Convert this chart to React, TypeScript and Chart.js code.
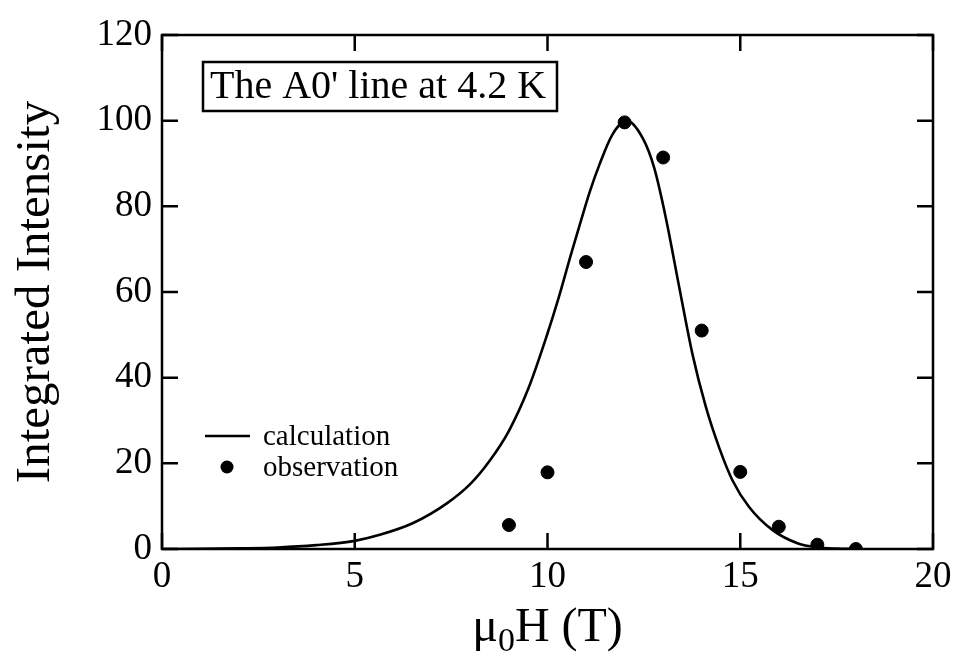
import React, { useEffect, useRef } from "react";
import { Chart, registerables } from "chart.js";

Chart.register(...registerables);

// Calculation curve
const calcX = [0, 1, 2, 3, 4, 5, 5.65, 6.5, 7.38, 8.0, 8.5, 9.0, 9.5, 9.97, 10.3, 10.6, 10.83, 11.1, 11.35, 11.68, 12.05, 12.47, 12.77, 13.07, 13.42, 13.76, 14.11, 14.46, 14.8, 15.23, 15.84, 16.5, 17, 17.5, 18];
const calcY = [0, 0.05, 0.15, 0.35, 0.9, 1.9, 3.3, 6, 10.6, 15.2, 20.6, 27.6, 37.4, 49.5, 59, 68.5, 75.5, 83.5, 89.8, 96.7, 100, 95.9, 88.9, 77.3, 61, 45.5, 33.1, 23.5, 16, 9.8, 4.4, 1.3, 0.4, 0.1, 0];

// Observations
const obsX = [9, 10, 11, 12, 13, 14, 15, 16, 17, 18];
const obsY = [5.6, 17.9, 67, 99.6, 91.4, 51, 18, 5.2, 1.0, 0];

const xTicks = [0, 5, 10, 15, 20];
const yTicks = [0, 20, 40, 60, 80, 100, 120];

const xTitleMain = "μ";
const xTitleSub = "0";
const xTitleRest = "H (T)";
const yTitle = "Integrated Intensity";
const annotation = "The A0' line at 4.2 K";
const legendLabels = ["calculation", "observation"];

const SERIF = "'Liberation Serif', 'Times New Roman', serif";

const framePlugin = {
  id: "frame",
  afterDraw(chart: any) {
    const { ctx, chartArea } = chart;
    const { left, right, top, bottom } = chartArea;
    const xs = chart.scales.x;
    const ys = chart.scales.y;
    ctx.save();
    ctx.strokeStyle = "#000";
    ctx.lineWidth = 2.5;
    ctx.strokeRect(left, top, right - left, bottom - top);
    const tl = 16;
    ctx.beginPath();
    xTicks.forEach((v) => {
      const px = xs.getPixelForValue(v);
      ctx.moveTo(px, bottom);
      ctx.lineTo(px, bottom - tl);
      ctx.moveTo(px, top);
      ctx.lineTo(px, top + tl);
    });
    yTicks.forEach((v) => {
      const py = ys.getPixelForValue(v);
      ctx.moveTo(left, py);
      ctx.lineTo(left + tl, py);
      ctx.moveTo(right, py);
      ctx.lineTo(right - tl, py);
    });
    ctx.stroke();

    // annotation box
    ctx.lineWidth = 2.5;
    ctx.strokeRect(203, 62, 354, 49);
    ctx.fillStyle = "#000";
    ctx.font = `40px ${SERIF}`;
    ctx.textBaseline = "alphabetic";
    ctx.textAlign = "left";
    ctx.fillText(annotation, 210, 98);

    // legend
    ctx.lineWidth = 2.5;
    ctx.beginPath();
    ctx.moveTo(205, 436);
    ctx.lineTo(250, 436);
    ctx.stroke();
    ctx.beginPath();
    ctx.arc(227, 467, 6.5, 0, Math.PI * 2);
    ctx.fill();
    ctx.font = `29px ${SERIF}`;
    ctx.fillText(legendLabels[0], 263, 445);
    ctx.fillText(legendLabels[1], 263, 476);

    // x title
    const big = `48px ${SERIF}`;
    const small = `34px ${SERIF}`;
    ctx.font = big;
    const w1 = ctx.measureText(xTitleMain).width;
    const w3 = ctx.measureText(xTitleRest).width;
    ctx.font = small;
    const w2 = ctx.measureText(xTitleSub).width;
    const total = w1 + w2 + w3;
    const cx = (left + right) / 2;
    let x0 = cx - total / 2;
    const base = 641;
    ctx.font = big;
    ctx.fillText(xTitleMain, x0, base);
    x0 += w1;
    ctx.font = small;
    ctx.fillText(xTitleSub, x0, base + 10);
    x0 += w2;
    ctx.font = big;
    ctx.fillText(xTitleRest, x0, base);

    // y title
    ctx.save();
    ctx.translate(36, (top + bottom) / 2);
    ctx.rotate(-Math.PI / 2);
    ctx.font = `49px ${SERIF}`;
    ctx.textAlign = "center";
    ctx.textBaseline = "middle";
    ctx.fillText(yTitle, 0, 0);
    ctx.restore();

    ctx.restore();
  },
};

export default function App() {
  const ref = useRef<HTMLCanvasElement | null>(null);
  useEffect(() => {
    document.body.style.margin = "0";
    const canvas = ref.current!;
    const chart = new Chart(canvas, {
      type: "scatter",
      data: {
        datasets: [
          {
            type: "line",
            label: legendLabels[0],
            data: calcX.map((x, i) => ({ x, y: calcY[i] })),
            borderColor: "#000",
            borderWidth: 2.6,
            pointRadius: 0,
            cubicInterpolationMode: "monotone",
            fill: false,
          } as any,
          {
            type: "scatter",
            label: legendLabels[1],
            data: obsX.map((x, i) => ({ x, y: obsY[i] })),
            backgroundColor: "#000",
            borderColor: "#000",
            pointRadius: 6.5,
            pointHoverRadius: 6.5,
          },
        ],
      },
      options: {
        animation: false,
        responsive: false,
        events: [],
        layout: { padding: { top: 35, right: 20, left: 0, bottom: 0 } },
        plugins: {
          legend: { display: false },
          tooltip: { enabled: false },
        },
        scales: {
          x: {
            type: "linear",
            min: 0,
            max: 20,
            afterBuildTicks: (s: any) => {
              s.ticks = xTicks.map((v) => ({ value: v }));
            },
            afterFit: (s: any) => {
              s.height = 107;
              s.paddingLeft = 0;
              s.paddingRight = 0;
            },
            grid: { display: false, drawTicks: false },
            border: { display: false },
            ticks: {
              color: "#000",
              padding: 6,
              maxRotation: 0,
              font: { family: SERIF, size: 37 },
            },
          },
          y: {
            type: "linear",
            min: 0,
            max: 120,
            afterBuildTicks: (s: any) => {
              s.ticks = yTicks.map((v) => ({ value: v }));
            },
            afterFit: (s: any) => {
              s.width = 162;
              s.paddingTop = 0;
              s.paddingBottom = 0;
            },
            grid: { display: false, drawTicks: false },
            border: { display: false },
            ticks: {
              color: "#000",
              padding: 10,
              font: { family: SERIF, size: 37 },
            },
          },
        },
      },
      plugins: [framePlugin],
    });
    return () => chart.destroy();
  }, []);
  return (
    <div style={{ position: "fixed", left: 0, top: 0, width: 953, height: 656, background: "#fff" }}>
      <canvas ref={ref} width={953} height={656} />
    </div>
  );
}
